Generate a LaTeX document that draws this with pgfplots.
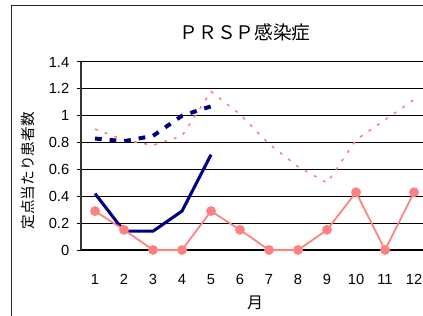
\documentclass[border=0pt]{standalone}
\usepackage{fontspec}
\setmainfont{Liberation Sans}
\newfontfamily\jp{Noto Sans CJK JP}
\usepackage{pgfplots}
\pgfplotsset{compat=1.18}
\definecolor{navyc}{RGB}{0,0,128}
\definecolor{pinkc}{RGB}{255,128,128}
\begin{document}
\begin{tikzpicture}
\draw[line width=0.75pt, black!85] (8.25pt,-4.5pt) rectangle (340pt,-260pt);
\begin{axis}[
  at={(60.4pt,-187.5pt)}, anchor=south west,
  scale only axis, width=261pt, height=141pt,
  xmin=0.5, xmax=12.5, ymin=0, ymax=1.4,
  xtick={1,...,12},
  minor xtick={1.5,2.5,...,11.5},
  ytick={0,0.2,...,1.4},
  yticklabels={0,0.2,0.4,0.6,0.8,1,1.2,1.4},
  axis x line*=bottom, axis y line*=left,
  x axis line style={line width=1.5pt, black},
  y axis line style={line width=1.5pt, black!80},
  ymajorgrids, grid style={line width=0.75pt, black},
  tick align=inside,
  major tick length=3pt, minor tick length=4pt,
  xtick style={draw=none},
  minor x tick style={line width=0.75pt, black},
  ytick style={line width=0.75pt, black, xshift=-3pt},
  tick label style={font=\fontsize{11}{13}\selectfont},
  /pgf/number format/assume math mode=true,
  yticklabel style={xshift=-5pt},
  xticklabel style={yshift=-15pt},
  clip=false,
]
\addplot[pinkc, line width=1.2pt, dash pattern=on 2.2pt off 5.5pt] coordinates {
(1,0.90) (2,0.82) (3,0.78) (4,0.85) (5,1.18) (6,1.01) (7,0.79) (8,0.62) (9,0.50) (10,0.82) (11,0.97) (12,1.12)};
\addplot[navyc, line width=3pt, dash pattern=on 5pt off 6pt] coordinates {
(1,0.83) (2,0.81) (3,0.85) (4,1.00) (5,1.07)};
\addplot[navyc, line width=2.3pt] coordinates {
(1,0.42) (2,0.14) (3,0.14) (4,0.29) (5,0.71)};
\addplot[pinkc, line width=1.3pt, mark=*, mark size=3pt, mark options={fill=pinkc, draw=pinkc}] coordinates {
(1,0.29) (2,0.15) (3,0) (4,0) (5,0.29) (6,0.15) (7,0) (8,0) (9,0.15) (10,0.43) (11,0) (12,0.43)};
\end{axis}
\node[font=\jp\fontsize{14}{16}\selectfont] at (183.75pt,-24.5pt) {ＰＲＳＰ感染症};
\node[font=\jp\fontsize{11}{13}\selectfont, rotate=90] at (21pt,-128.25pt) {定点当たり患者数};
\node[font=\jp\fontsize{12}{14}\selectfont] at (191.25pt,-227.25pt) {月};
\pgfresetboundingbox
\path (0,0) rectangle (317.25pt,-237pt);
\end{tikzpicture}
\end{document}
